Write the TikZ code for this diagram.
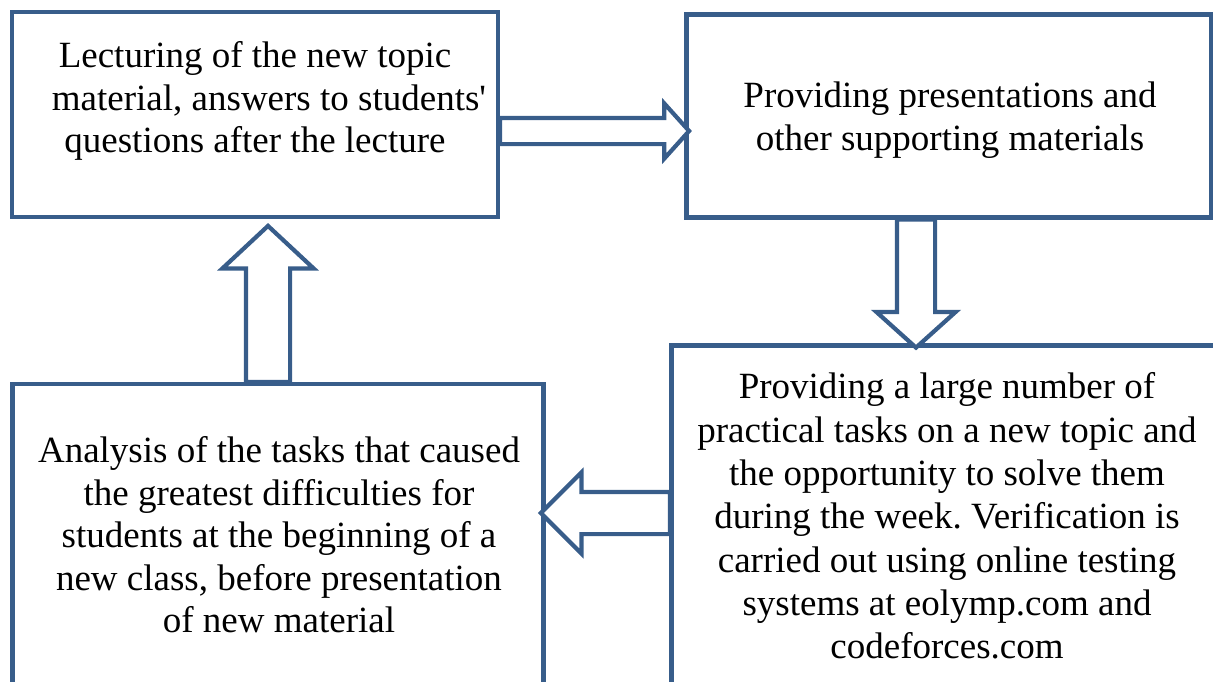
\documentclass[tikz,border=0pt]{standalone}
\usepackage{fontspec}
\setmainfont{Liberation Serif}
\usetikzlibrary{shapes.arrows}

\definecolor{boxblue}{HTML}{385D8A}
\frenchspacing

\begin{document}
\begin{tikzpicture}[
            x=1pt,
            y=-1pt,
            box/.style={
                rectangle,
                draw=boxblue,
                line width=4.6pt,
                inner sep=0pt
            },
            boxtext/.style={
                align=center,
                inner sep=0pt,
                font=\fontsize{37}{42.5}\selectfont
            },
            blockarrow/.style={
                single arrow,
                draw=boxblue,
                fill=white,
                line width=4.2pt,
                single arrow head indent=0pt,
                anchor=tail
            }
        ]
            \useasboundingbox (0,0) rectangle (1213,681);
            \clip (0,0) rectangle (1213,681);

            \node[box, minimum width=486, minimum height=205] (lecture) at (255,114.5) {};
            \node[box, minimum width=525, minimum height=203] (slides) at (949,116) {};
            \node[box, minimum width=560, minimum height=355] (practice) at (951.5,523) {};
            \node[box, minimum width=531, minimum height=318] (analysis) at (278,543) {};

            \node[boxtext] (lecturetext) at (255,101) {Lecturing of the new topic\\
                \hspace*{28pt}material, answers to students\textquotesingle\\
                questions after the lecture};
            \node[boxtext] (slidestext) at (950,120) {Providing presentations and\\
                other supporting materials};
            \node[boxtext, font=\fontsize{37}{43.3}\selectfont] (practicetext) at (947,516) {Providing a large number of\\
                practical tasks on a new topic and\\
                the opportunity to solve them\\
                during the week. Verification is\\
                carried out using online testing\\
                systems at eolymp.com and\\
                codeforces.com};
            \node[boxtext] (analysistext) at (279,535) {Analysis of the tasks that caused\\
                the greatest difficulties for\\
                students at the beginning of a\\
                new class, before presentation\\
                of new material};

            \node[blockarrow, minimum height=189, inner sep=11, single arrow head extend=14.5,
                single arrow tip angle=96] (toslides) at (498,131) {};
            \node[blockarrow, minimum height=128, inner sep=17, single arrow head extend=20.5,
                single arrow tip angle=96, shape border rotate=270] (topractice) at (916,217.5) {};
            \node[blockarrow, minimum height=129, inner sep=19, single arrow head extend=19.5,
                single arrow tip angle=90, shape border rotate=180] (toanalysis) at (672,513) {};
            \node[blockarrow, minimum height=156, inner sep=20, single arrow head extend=23.5,
                single arrow tip angle=94, shape border rotate=90] (tolecture) at (268,384) {};
        \end{tikzpicture}
\end{document}
